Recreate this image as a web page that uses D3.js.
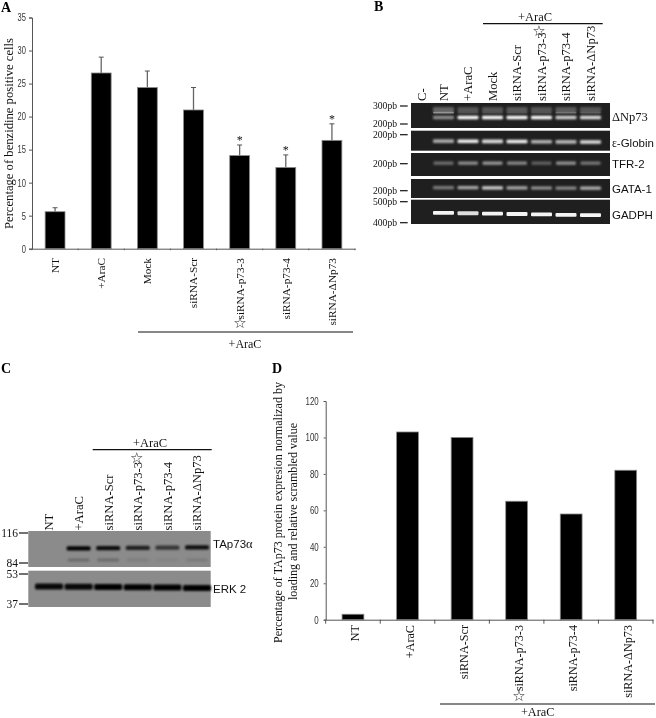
<!DOCTYPE html>
<html>
<head>
<meta charset="utf-8">
<script src="https://cdn.jsdelivr.net/npm/d3@7/dist/d3.min.js"></script>
<style>
html,body{margin:0;padding:0;background:#fff;overflow:hidden}
svg{display:block;filter:blur(0.35px)}
text{fill:#111}
.serif{font-family:"Liberation Serif","Times New Roman",serif}
.sans{font-family:"Liberation Sans",Arial,sans-serif}
.tick-lab{font-family:"Liberation Sans",Arial,sans-serif;font-size:10.5px;fill:#333}
</style>
</head>
<body>
<svg id="fig" width="656" height="718"></svg>
<script>
// ---------- Panel A ----------
const catsA = ["NT","+AraC","Mock","siRNA-Scr","siRNA-p73-3","siRNA-p73-4","siRNA-ΔNp73"];
const valsA = [5.6,26.6,24.4,21.0,14.1,12.3,16.4];
const errTopA = [6.2,29.0,26.9,24.4,15.7,14.2,18.9];
const sigA = ["siRNA-p73-3","siRNA-p73-4","siRNA-ΔNp73"];
const ticksA = [0,5,10,15,20,25,30,35];
const yLabelA = "Percentage of benzidine positive cells";
// ---------- Panel D ----------
const catsD = ["NT","+AraC","siRNA-Scr","siRNA-p73-3","siRNA-p73-4","siRNA-ΔNp73"];
const valsD = [3,103,100,65,58,82];
const ticksD = [0,20,40,60,80,100,120];
const yLabelD1 = "Percentage of TAp73 protein expresion normalizad by";
const yLabelD2 = "loading and relative scrambled value";
// ---------- Panel B (band intensities 0-1, per lane) ----------
const lanesB = ["C-","NT","+AraC","Mock","siRNA-Scr","siRNA-p73-3","siRNA-p73-4","siRNA-ΔNp73"];
const dnp73Main = [0,.5,1,1,1,1,.8,.85];
const dnp73Mid  = [0,.4,.06,.06,.08,.08,.25,.14];
const dnp73Top  = [0,.3,.24,.24,.26,.24,.26,.24];
const globin = [0,.62,.95,.85,.95,.68,.68,.85];
const tfr2   = [0,.36,.5,.55,.48,.3,.52,.4];
const gata1  = [0,.42,.62,.8,.62,.55,.48,.65];
const gapdh  = [0,.95,.85,.95,.95,.95,.95,.95];
const rowLabelsB = ["ΔNp73","ε-Globin","TFR-2","GATA-1","GADPH"];
const markersB = ["300pb","200pb","200pb","200pb","200pb","500pb","400pb"];
// ---------- Panel C ----------
const lanesC = ["NT","+AraC","siRNA-Scr","siRNA-p73-3","siRNA-p73-4","siRNA-ΔNp73"];
const tap73Main  = [0,1,.92,.78,.62,.9];
const tap73Lower = [0,.24,.24,.1,.06,.12];
const erk2 = [.95,.95,1,1,1,1];
const markersC = ["116","84","53","37"];

const svg = d3.select("#fig");
const defs = svg.append("defs");
[["b05",.6],["b08",.9],["b12",1.3],["b20",2]].forEach(([id,s])=>{
  defs.append("filter").attr("id",id).attr("x","-30%").attr("y","-150%").attr("width","160%").attr("height","400%")
    .append("feGaussianBlur").attr("stdDeviation",s);
});

function vtext(x,y,t,size,anchor,len){
  const el = svg.append("text").attr("class","serif")
    .attr("transform",`translate(${x},${y}) rotate(-90)`)
    .attr("dy","0.35em").attr("text-anchor",anchor).attr("font-size",size).text(t);
  if(len) el.attr("textLength",len).attr("lengthAdjust","spacingAndGlyphs");
  return el;
}
function star(x,y,size){
  svg.append("text").attr("x",x).attr("y",y).attr("dy","0.35em")
    .attr("text-anchor","middle").attr("font-family","DejaVu Sans").attr("font-size",size||15)
    .style("fill","#222").text("☆");
}
function letter(x,y,t){
  svg.append("text").attr("class","serif").attr("x",x).attr("y",y)
    .attr("font-weight","bold").attr("font-size",14).style("fill","#000").text(t);
}
function rule(x1,x2,y){
  svg.append("line").attr("x1",x1).attr("x2",x2).attr("y1",y).attr("y2",y)
    .attr("stroke","#111").attr("stroke-width",1.2);
}
function label(x,y,t,size,anchor,cls){
  return svg.append("text").attr("class",cls||"serif").attr("x",x).attr("y",y)
    .attr("text-anchor",anchor||"middle").attr("font-size",size).text(t);
}
function styleAxis(g,perChar){
  g.selectAll("path,line").attr("stroke","#555").attr("stroke-width",1);
  g.selectAll("text").attr("class","tick-lab").attr("fill",null)
    .attr("textLength",function(){return this.textContent.length*perChar;})
    .attr("lengthAdjust","spacingAndGlyphs");
}
function boundaryTicks(x,x0,n,y0,len){
  svg.append("g").selectAll("line").data(d3.range(n+1)).join("line")
    .attr("x1",i=>x0+i*x.step()).attr("x2",i=>x0+i*x.step())
    .attr("y1",y0).attr("y2",y0+len).attr("stroke","#555");
}

// ---------- draw A ----------
{
  const x = d3.scaleBand().domain(catsA).range([32,355]).paddingInner(.57).paddingOuter(.285);
  const y = d3.scaleLinear().domain([0,35]).range([248.7,17.5]);
  const g = svg.append("g");
  g.selectAll("line.err").data(catsA).join("line").attr("class","err")
    .attr("x1",d=>x(d)+x.bandwidth()/2).attr("x2",d=>x(d)+x.bandwidth()/2)
    .attr("y1",(d,i)=>y(valsA[i])).attr("y2",(d,i)=>y(errTopA[i]))
    .attr("stroke","#666").attr("stroke-width",1.3);
  g.selectAll("line.cap").data(catsA).join("line").attr("class","cap")
    .attr("x1",d=>x(d)+x.bandwidth()/2-2.5).attr("x2",d=>x(d)+x.bandwidth()/2+2.5)
    .attr("y1",(d,i)=>y(errTopA[i])).attr("y2",(d,i)=>y(errTopA[i]))
    .attr("stroke","#555").attr("stroke-width",1);
  g.selectAll("rect").data(catsA).join("rect")
    .attr("x",d=>x(d)).attr("width",x.bandwidth())
    .attr("y",(d,i)=>y(valsA[i])).attr("height",(d,i)=>y(0)-y(valsA[i]))
    .attr("fill","#000").attr("stroke","#8a8a8a").attr("stroke-width",.8);
  g.selectAll("text.sig").data(sigA).join("text").attr("class","serif sig")
    .attr("x",d=>x(d)+x.bandwidth()/2)
    .attr("y",d=>y(errTopA[catsA.indexOf(d)])-1)
    .attr("text-anchor","middle").attr("font-size",12).text("*");
  styleAxis(svg.append("g").attr("transform","translate(32,0)").call(d3.axisLeft(y).tickValues(ticksA).tickSize(3).tickPadding(3)),4.2);
  styleAxis(svg.append("g").attr("transform",`translate(0,${y(0)})`).call(d3.axisBottom(x).tickSize(0).tickFormat("")),4.2);
  boundaryTicks(x,32,catsA.length,y(0),1.5);
  catsA.forEach(c=>vtext(x(c)+x.bandwidth()/2,258,c,11.3,"end"));
  vtext(9,133.5,yLabelA,12.2,"middle",191);
  star(240,323,15);
  rule(138,353,332);
  label(245,348,"+AraC",12);
  letter(1,12,"A");
}
// ---------- draw D ----------
{
  const x = d3.scaleBand().domain(catsD).range([325.7,653]).paddingInner(.6).paddingOuter(.3);
  const y = d3.scaleLinear().domain([0,120]).range([619.7,401]);
  svg.append("g").selectAll("rect").data(catsD).join("rect")
    .attr("x",d=>x(d)).attr("width",x.bandwidth())
    .attr("y",(d,i)=>y(valsD[i])).attr("height",(d,i)=>y(0)-y(valsD[i]))
    .attr("fill","#000").attr("stroke","#8a8a8a").attr("stroke-width",.8);
  styleAxis(svg.append("g").attr("transform","translate(325.7,0)").call(d3.axisLeft(y).tickValues(ticksD).tickSize(2).tickPadding(5)),4.4);
  styleAxis(svg.append("g").attr("transform",`translate(0,${y(0)})`).call(d3.axisBottom(x).tickSize(0).tickFormat("")),4.4);
  boundaryTicks(x,325.7,catsD.length,y(0),4);
  catsD.forEach(c=>vtext(x(c)+x.bandwidth()/2+2,625,c,12.2,"end"));
  vtext(278,512.5,yLabelD1,12.3,"middle",261);
  vtext(292.7,511.5,yLabelD2,12.3,"middle",177);
  star(519,696,15);
  rule(440,655,704);
  label(537.7,716,"+AraC",12.3);
  letter(272,373,"D");
}
// ---------- draw B ----------
{
  const x = d3.scalePoint().domain(lanesB).range([419,590.5]);
  const rows = [[103,128],[130.7,150.7],[153,176],[179,198],[199.7,224]];
  const gx0 = 411, gx1 = 610;
  rows.forEach(r=>svg.append("rect").attr("x",gx0).attr("y",r[0]).attr("width",gx1-gx0).attr("height",r[1]-r[0]).attr("fill","#1f1f1f"));
  function bands(vals,yc,h,w,filt,tilt){
    svg.append("g").attr("filter",`url(#${filt})`).selectAll("rect").data(lanesB).join("rect")
      .attr("x",d=>x(d)-w/2).attr("width",w)
      .attr("y",(d,i)=>yc+(tilt||0)*i-h/2).attr("height",h).attr("rx",1)
      .attr("fill","#fff").attr("opacity",(d,i)=>vals[i]);
  }
  bands(dnp73Top,110,6,21,"b12");
  bands(dnp73Mid,112.6,1.8,21,"b05");
  bands(dnp73Main,117.5,3.6,21,"b08");
  bands(globin,141,3.6,21,"b08",.14);
  bands(tfr2,163.2,3.2,20,"b08");
  bands(gata1,187.5,3.2,21,"b08",.1);
  bands(gapdh,212.5,3.8,21,"b05",.38);
  lanesB.forEach(c=>vtext(c==="C-"?421.7:x(c),101,c,12.6,"start"));
  const mk = [106,124,134.7,163.7,190.7,201.7,222.7];
  markersB.forEach((m,i)=>{
    label(397,mk[i]+3,m,9.6,"end");
    svg.append("line").attr("x1",400).attr("x2",407.7).attr("y1",mk[i]).attr("y2",mk[i]).attr("stroke","#111").attr("stroke-width",1.2);
  });
  const ly = [117,143,164,189,215];
  rowLabelsB.forEach((t,i)=>{
    const el = label(612,ly[i]+4,"",11.5,"start","sans");
    if(t[0]==="Δ"){ el.attr("class","serif").attr("font-size",12.5).text(t); }
    else if(t[0]==="ε"){ el.append("tspan").attr("class","serif").text("ε"); el.append("tspan").text(t.slice(1)); }
    else el.text(t);
  });
  star(539,30.7,15);
  rule(483,602.7,23.7);
  label(535,20.7,"+AraC",12.5);
  letter(374,11,"B");
}
// ---------- draw C ----------
{
  const x = d3.scalePoint().domain(lanesC).range([49,197]);
  const rows = [[531,567],[570.7,607]];
  rows.forEach(r=>svg.append("rect").attr("x",28.3).attr("y",r[0]).attr("width",182.4).attr("height",r[1]-r[0]).attr("fill","#8b8b8b"));
  function bands(vals,yc,h,w,filt,tilt){
    svg.append("g").attr("filter",`url(#${filt})`).selectAll("rect").data(lanesC).join("rect")
      .attr("x",d=>x(d)-w/2).attr("width",w)
      .attr("y",(d,i)=>yc+(tilt||0)*i-h/2).attr("height",h).attr("rx",1.5)
      .attr("fill","#000").attr("opacity",(d,i)=>vals[i]);
  }
  bands(tap73Lower,560,2.8,22,"b12");
  bands(tap73Main,548.7,4.2,24,"b08",-.25);
  bands(erk2,586.4,6,28,"b08",.3);
  lanesC.forEach(c=>vtext(x(c),530.5,c,12.6,"start"));
  const mk = [533,563,574,604];
  markersC.forEach((m,i)=>{
    label(18,mk[i]+4,m,11.5,"end");
    svg.append("line").attr("x1",19).attr("x2",28).attr("y1",mk[i]).attr("y2",mk[i]).attr("stroke","#111").attr("stroke-width",1.2);
  });
  const ta = label(213,548,"TAp73",11.5,"start","sans");
  ta.append("tspan").attr("class","serif").attr("font-size",12.5).text("α");
  label(213,593,"ERK 2",11.5,"start","sans");
  star(136.7,458,15);
  rule(92.7,211.7,449.7);
  label(150,447,"+AraC",12.5);
  letter(1,373,"C");
}
</script>
</body>
</html>
